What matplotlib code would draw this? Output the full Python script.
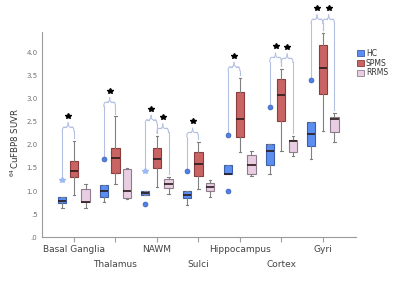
import numpy as np
import matplotlib
matplotlib.use("Agg")
import matplotlib.pyplot as plt

regions = ["Basal Ganglia", "Thalamus", "NAWM", "Sulci", "Hippocampus", "Cortex", "Gyri"]
groups = ["HC", "SPMS", "RRMS"]

# per group: [whislo, q1, med, q3, whishi] for each region
hc_stats = [
    [0.63, 0.75, 0.79, 0.86, 0.86],
    [0.77, 0.88, 1.01, 1.14, 1.14],
    [0.91, 0.91, 0.96, 1.01, 1.01],
    [0.70, 0.85, 0.92, 0.99, 0.99],
    [1.36, 1.36, 1.37, 1.57, 1.57],
    [1.38, 1.57, 1.86, 2.02, 2.02],
    [1.69, 1.97, 2.23, 2.49, 2.49],
]
spms_stats = [
    [0.92, 1.30, 1.44, 1.66, 2.09],
    [1.15, 1.40, 1.72, 1.94, 2.62],
    [1.09, 1.50, 1.70, 1.94, 2.19],
    [1.04, 1.32, 1.58, 1.85, 2.07],
    [1.85, 2.18, 2.57, 3.15, 3.45],
    [1.87, 2.52, 3.09, 3.44, 3.65],
    [2.31, 3.11, 3.68, 4.17, 4.43],
]
rrms_stats = [
    [0.64, 0.77, 0.77, 1.05, 1.15],
    [0.83, 0.85, 1.00, 1.47, 1.50],
    [0.93, 1.06, 1.15, 1.25, 1.31],
    [0.88, 1.01, 1.09, 1.17, 1.23],
    [1.33, 1.37, 1.57, 1.78, 1.87],
    [1.75, 1.84, 2.09, 2.10, 2.20],
    [2.07, 2.28, 2.57, 2.60, 2.70],
]
# outliers (circles) and extremes (stars), HC only
hc_outliers = [[], [1.70], [0.71], [1.43], [2.21, 1.01], [2.83], [3.41]]
hc_extremes = [[1.24], [], [1.43], [], [], [], []]

# significance brackets: (region, left group, right group, height)
brackets = [
    (0, 0, 1, 2.39),
    (1, 0, 1, 2.93),
    (2, 0, 1, 2.55),
    (2, 1, 2, 2.36),
    (3, 0, 1, 2.27),
    (4, 0, 1, 3.70),
    (5, 0, 1, 3.90),
    (5, 1, 2, 3.88),
    (6, 0, 1, 4.73),
    (6, 1, 2, 4.73),
]

fills = ["#5b8ef0", "#c96464", "#e9cde2"]
edges = ["#3d5fa8", "#8c3c3c", "#8e7c8c"]
offsets = [-0.28, 0.0, 0.28]
all_stats = [hc_stats, spms_stats, rrms_stats]

fig = plt.figure(figsize=(4.0, 2.86), dpi=100)
ax = fig.add_axes([0.104, 0.171, 0.786, 0.717])

for g, stats in enumerate(all_stats):
    bxp = []
    for r, s in enumerate(stats):
        d = dict(whislo=s[0], q1=s[1], med=s[2], q3=s[3], whishi=s[4], fliers=[])
        bxp.append(d)
    pos = np.arange(len(regions)) + offsets[g]
    ax.bxp(bxp, positions=pos, widths=0.2, patch_artist=True, showfliers=False,
           boxprops=dict(facecolor=fills[g], edgecolor=edges[g], linewidth=0.8),
           medianprops=dict(color="#2a1a1a", linewidth=1.2),
           whiskerprops=dict(color="#808080", linewidth=0.8),
           capprops=dict(color="#808080", linewidth=0.8),
           capwidths=0.06)

for r in range(len(regions)):
    x = r + offsets[0]
    for v in hc_outliers[r]:
        ax.plot(x, v, "o", ms=3.5, mfc="#4f80e6", mec="#3a5cb0", mew=0.5, zorder=4)
    for v in hc_extremes[r]:
        ax.plot(x, v, "*", ms=4, mfc="#9bb8f4", mec="#9bb8f4", zorder=4)


def group_top(r, g):
    vals = [all_stats[g][r][4]]
    if g == 0:
        vals += hc_outliers[r] + hc_extremes[r]
    return max(vals) + 0.06


def brace(ax, x1, x2, y1, y2, ytop):
    rr = 0.045
    cv = 0.09
    h = 0.09
    xm = (x1 + x2) / 2
    t = np.linspace(0, np.pi / 2, 10)
    kw = dict(color="#b4c0e2", lw=0.8, clip_on=False, zorder=3)
    ax.plot([x1, x1], [y1, ytop - cv], **kw)
    ax.plot([x2, x2], [y2, ytop - cv], **kw)
    ax.plot(x1 + rr - rr * np.cos(t), ytop - cv + cv * np.sin(t), **kw)
    ax.plot(x2 - rr + rr * np.cos(t), ytop - cv + cv * np.sin(t), **kw)
    ax.plot([x1 + rr, xm - rr], [ytop, ytop], **kw)
    ax.plot([xm + rr, x2 - rr], [ytop, ytop], **kw)
    ax.plot(xm - rr + rr * np.sin(t), ytop + h * (1 - np.cos(t)), **kw)
    ax.plot(xm + rr - rr * np.sin(t), ytop + h * (1 - np.cos(t)), **kw)
    ax.plot(xm, ytop + h + 0.15, "*", ms=3.8, color="black", clip_on=False, zorder=4)


for r, g1, g2, yb in brackets:
    brace(ax, r + offsets[g1], r + offsets[g2], group_top(r, g1), group_top(r, g2), yb)

ax.set_xlim(-0.78, 6.80)
ax.set_ylim(0, 4.45)
ax.set_yticks(np.arange(0, 4.01, 0.5))
ax.set_yticklabels([".0", ".5", "1.0", "1.5", "2.0", "2.5", "3.0", "3.5", "4.0"])
ax.set_xticks(np.arange(len(regions)))
ax.set_xticklabels(regions)
ax.tick_params(axis="y", labelsize=5, colors="#707070", length=0, pad=3)
ax.tick_params(axis="x", labelsize=6.5, colors="#a0a0a0", labelcolor="#444444",
               length=3.6, pad=2)
for i, tick in enumerate(ax.xaxis.get_major_ticks()):
    if i % 2 == 1:
        tick.tick1line.set_markersize(14.4)
        tick.set_pad(13)

for s in ["top", "right"]:
    ax.spines[s].set_visible(False)
for s in ["left", "bottom"]:
    ax.spines[s].set_color("#9a9a9a")
    ax.spines[s].set_linewidth(0.8)

ax.set_ylabel(r"$^{64}$CuFBP8 SUVR", fontsize=6.2, color="#333333")
ax.yaxis.set_label_coords(-0.065, 0.46)

handles = [plt.Rectangle((0, 0), 1, 1, facecolor=fills[g], edgecolor=edges[g], lw=0.6)
           for g in range(3)]
fig.legend(handles, groups, loc="upper left", bbox_to_anchor=(0.882, 0.845),
           frameon=False, fontsize=5.5, handlelength=0.9, handleheight=0.9,
           handletextpad=0.2, labelspacing=0.1, borderpad=0.1, labelcolor="#333333")

fig.savefig("out.png", dpi=100)
